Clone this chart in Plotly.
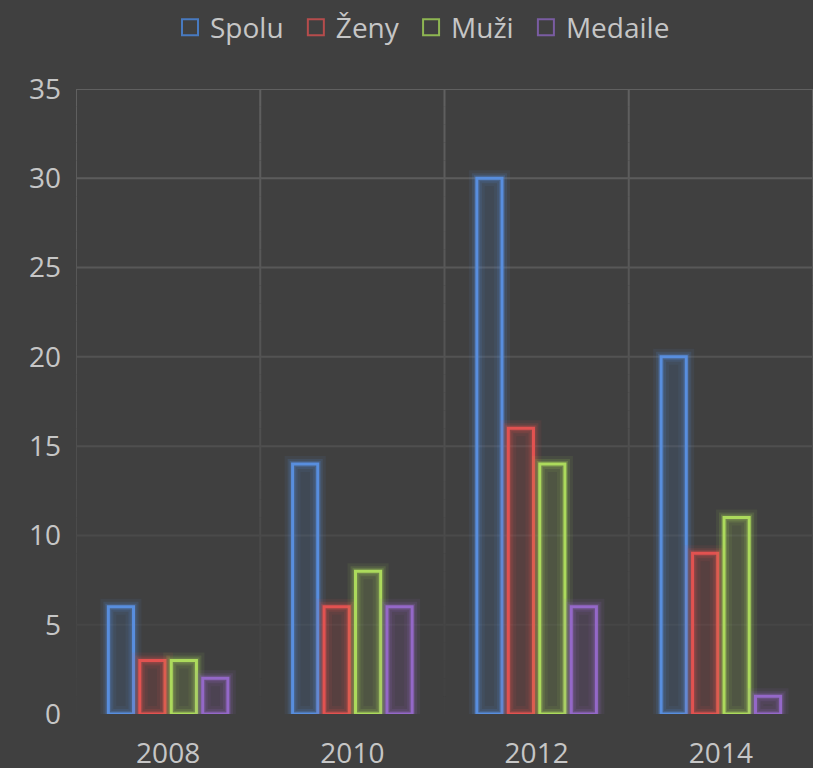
import plotly.graph_objects as go

years = ["2008", "2010", "2012", "2014"]
spolu = [6, 14, 30, 20]
zeny = [3, 6, 16, 9]
muzi = [3, 8, 14, 11]
medaile = [2, 6, 6, 1]
y_ticks = [0, 5, 10, 15, 20, 25, 30, 35]

series = [
    ("Spolu", spolu, (88, 142, 222), (72, 122, 192)),
    ("Ženy", zeny, (226, 82, 80), (182, 76, 76)),
    ("Muži", muzi, (172, 218, 92), (142, 182, 82)),
    ("Medaile", medaile, (148, 104, 200), (122, 92, 162)),
]

FONT = "Open Sans"
TXT = "#c6c6c6"
BG = (64, 64, 64)
GRID = (96, 96, 96)
YMAX = 35


def grid_col(v):
    a = max(0.0, min(1.0, v / YMAX)) ** 0.9
    c = [round(BG[k] + (GRID[k] - BG[k]) * a) for k in range(3)]
    return f"rgb({c[0]},{c[1]},{c[2]})"


fig = go.Figure()
for i, (name, vals, (r, g, b), leg) in enumerate(series):
    og = str(i)
    for w, a in [(16, 0.08), (10, 0.14), (6, 0.22)]:
        fig.add_trace(go.Bar(
            x=years, y=vals, offsetgroup=og, showlegend=False, hoverinfo="skip",
            marker=dict(color=f"rgba({r},{g},{b},0.05)",
                        line=dict(color=f"rgba({r},{g},{b},{a})", width=w)),
        ))
    fig.add_trace(go.Bar(
        x=years, y=vals, name=name, offsetgroup=og, showlegend=False,
        marker=dict(color="rgba(0,0,0,0)",
                    line=dict(color=f"rgb({r},{g},{b})", width=3)),
    ))
    fig.add_trace(go.Scatter(
        x=[None], y=[None], name=name + "\u00a0", mode="markers",
        marker=dict(symbol="square-open", size=16,
                    color=f"rgb({leg[0]},{leg[1]},{leg[2]})",
                    line=dict(width=2, color=f"rgb({leg[0]},{leg[1]},{leg[2]})")),
    ))

# fading gridlines (horizontal at tick values, vertical at category boundaries)
shapes = []
for v in y_ticks[1:]:
    shapes.append(dict(type="line", xref="paper", x0=0, x1=1, yref="y", y0=v, y1=v,
                       line=dict(color=grid_col(v), width=2), layer="below"))
bounds = [k - 0.5 for k in range(len(years) + 1)]
seg = 1.0
for xb in bounds:
    v = 0.0
    while v < YMAX:
        shapes.append(dict(type="line", xref="x", x0=xb, x1=xb, yref="y",
                           y0=v, y1=min(YMAX, v + seg),
                           line=dict(color=grid_col(v + seg / 2), width=2), layer="below"))
        v += seg

fig.update_layout(
    width=813, height=768,
    paper_bgcolor="#404040", plot_bgcolor="#404040",
    barmode="group", bargap=0.317, bargroupgap=0.2,
    margin=dict(l=76, r=0, t=89, b=54),
    font=dict(family=FONT, size=28, color=TXT),
    legend=dict(orientation="h", xref="container", x=0.524, xanchor="center",
                yref="container", y=0.964, yanchor="middle",
                font=dict(size=28, color=TXT), itemwidth=30,
                traceorder="normal"),
    shapes=shapes,
)
fig.update_xaxes(type="category", showgrid=False, ticks="", showline=False,
                 zeroline=False, ticklabelstandoff=20, automargin=False,
                 range=[-0.5, len(years) - 0.5],
                 tickfont=dict(size=28, color=TXT))
fig.update_yaxes(range=[0, YMAX], tickvals=y_ticks, showgrid=False, zeroline=False,
                 showline=False, ticks="", ticklabelstandoff=14, automargin=False,
                 tickfont=dict(size=28, color=TXT))

fig.write_html("out.html", config={"displayModeBar": False},
               post_script="document.body.style.margin='0';document.body.style.padding='0';document.body.style.overflow='hidden';")
